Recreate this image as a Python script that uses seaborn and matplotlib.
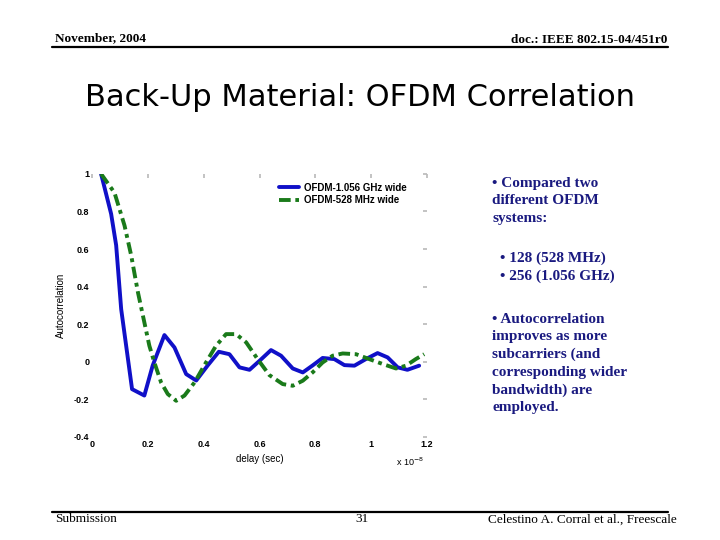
import matplotlib

matplotlib.use("Agg")
import matplotlib.pyplot as plt
import pandas as pd
import seaborn as sns

OUT_PATH = "out.png"

# delay (x 1e-8 sec) and autocorrelation
WIDE_DELAY = [0.032, 0.068, 0.086, 0.104, 0.143, 0.187, 0.217, 0.259, 0.295, 0.337,
              0.373, 0.414, 0.454, 0.492, 0.528, 0.564, 0.600, 0.641, 0.677, 0.719,
              0.755, 0.790, 0.826, 0.868, 0.904, 0.940, 0.981, 1.023, 1.059, 1.095,
              1.130, 1.172]
WIDE_CORR = [1.0, 0.787, 0.62, 0.28, -0.146, -0.18, -0.02, 0.142, 0.076, -0.066,
             -0.10, -0.02, 0.053, 0.04, -0.03, -0.043, 0.005, 0.062, 0.032, -0.036,
             -0.057, -0.02, 0.02, 0.014, -0.018, -0.021, 0.014, 0.046, 0.023, -0.03,
             -0.043, -0.021]

NARROW_DELAY = [0.032, 0.080, 0.116, 0.140, 0.164, 0.187, 0.205, 0.223, 0.247, 0.271,
                0.301, 0.331, 0.367, 0.408, 0.444, 0.480, 0.516, 0.552, 0.593, 0.635,
                0.683, 0.719, 0.755, 0.790, 0.826, 0.862, 0.898, 0.946, 0.993, 1.041,
                1.089, 1.125, 1.160, 1.190]
NARROW_CORR = [1.0, 0.90, 0.725, 0.565, 0.37, 0.21, 0.085, -0.004, -0.11, -0.172,
               -0.208, -0.18, -0.11, -0.004, 0.085, 0.147, 0.147, 0.103, 0.014, -0.071,
               -0.119, -0.128, -0.101, -0.057, -0.004, 0.032, 0.044, 0.04, 0.014, -0.012,
               -0.036, -0.021, 0.014, 0.04]

SERIES_NAMES = ["OFDM-1.056 GHz wide", "OFDM-528 MHz wide"]
SERIES_COLORS = ["#1010c8", "#1a7a1a"]

X_TICKS = [0, 0.2, 0.4, 0.6, 0.8, 1, 1.2]
X_TICK_LABELS = ["0", "0.2", "0.4", "0.6", "0.8", "1", "1.2"]
Y_TICKS = [-0.4, -0.2, 0, 0.2, 0.4, 0.6, 0.8, 1]
Y_TICK_LABELS = ["-0.4", "-0.2", "0", "0.2", "0.4", "0.6", "0.8", "1"]

BULLET_COLOR = "#1a1a80"


def build_frame() -> pd.DataFrame:
    wide = pd.DataFrame({"delay": WIDE_DELAY, "corr": WIDE_CORR, "series": SERIES_NAMES[0]})
    narrow = pd.DataFrame({"delay": NARROW_DELAY, "corr": NARROW_CORR, "series": SERIES_NAMES[1]})
    return pd.concat([wide, narrow], ignore_index=True)


def draw_plot(fig, df: pd.DataFrame) -> None:
    ax = fig.add_axes([0.128, 0.191, 0.465, 0.487])
    sns.lineplot(data=df, x="delay", y="corr", hue="series", style="series",
                 palette=SERIES_COLORS, dashes=["", (3, 1.2, 1, 1.2)],
                 sort=False, estimator=None, linewidth=2.8, ax=ax)

    ax.set_xlim(0, 1.2)
    ax.set_ylim(-0.4, 1)
    ax.set_xticks(X_TICKS)
    ax.set_xticklabels(X_TICK_LABELS)
    ax.set_yticks(Y_TICKS)
    ax.set_yticklabels(Y_TICK_LABELS)
    ax.tick_params(direction="in", length=3, color="#bbbbbb", labelsize=6.5,
                   top=True, right=True, pad=2)
    for label in ax.get_xticklabels() + ax.get_yticklabels():
        label.set_fontweight("bold")
    for spine in ax.spines.values():
        spine.set_visible(False)

    ax.set_xlabel("delay (sec)", fontsize=7, labelpad=4)
    ax.set_ylabel("Autocorrelation", fontsize=7, labelpad=6)
    ax.text(0.99, -0.07, r"x 10$^{-8}$", transform=ax.transAxes, fontsize=6.5,
            ha="right", va="top")

    leg = ax.legend(loc="upper right", bbox_to_anchor=(0.965, 1.0), frameon=False,
                    fontsize=7, handlelength=2.0, handletextpad=0.5, labelspacing=0.25)
    for text in leg.get_texts():
        text.set_fontweight("bold")


def draw_slide_text(fig) -> None:
    serif = "Liberation Serif"
    fig.text(0.076, 0.93, "November, 2004", fontsize=9.5, fontweight="bold",
             family=serif, ha="left", va="center")
    fig.text(0.927, 0.926, "doc.: IEEE 802.15-04/451r0", fontsize=9.5, fontweight="bold",
             family=serif, ha="right", va="center")
    fig.add_artist(plt.Line2D([0.072, 0.928], [0.913, 0.913], color="black", linewidth=1.6))

    fig.text(0.5, 0.82, "Back-Up Material: OFDM Correlation", fontsize=22,
             family="DejaVu Sans", ha="center", va="center")

    fig.add_artist(plt.Line2D([0.072, 0.928], [0.052, 0.052], color="black", linewidth=1.6))
    fig.text(0.076, 0.038, "Submission", fontsize=9.5, family=serif, ha="left", va="center")
    fig.text(0.503, 0.038, "31", fontsize=9.5, family=serif, ha="center", va="center")
    fig.text(0.94, 0.038, "Celestino A. Corral et al., Freescale", fontsize=9.5,
             family=serif, ha="right", va="center")

    bullet = dict(fontsize=11, fontweight="bold", family=serif, color=BULLET_COLOR,
                  ha="left", va="center", linespacing=1.45)
    fig.text(0.684, 0.628, "• Compared two\ndifferent OFDM\nsystems:", **bullet)
    fig.text(0.694, 0.505, "• 128 (528 MHz)\n• 256 (1.056 GHz)", **bullet)
    fig.text(0.684, 0.327, "• Autocorrelation\nimproves as more\nsubcarriers (and\n"
             "corresponding wider\nbandwidth) are\nemployed.", **bullet)


def main() -> None:
    sns.set_theme(style="white")
    plt.rcParams["font.family"] = ["Liberation Sans", "DejaVu Sans"]
    plt.rcParams["text.color"] = "black"
    plt.rcParams["axes.labelcolor"] = "black"
    plt.rcParams["xtick.labelcolor"] = "black"
    plt.rcParams["ytick.labelcolor"] = "black"

    fig = plt.figure(figsize=(7.2, 5.4), dpi=100)
    draw_plot(fig, build_frame())
    draw_slide_text(fig)
    fig.savefig(OUT_PATH, dpi=100)
    plt.close(fig)


if __name__ == "__main__":
    main()
